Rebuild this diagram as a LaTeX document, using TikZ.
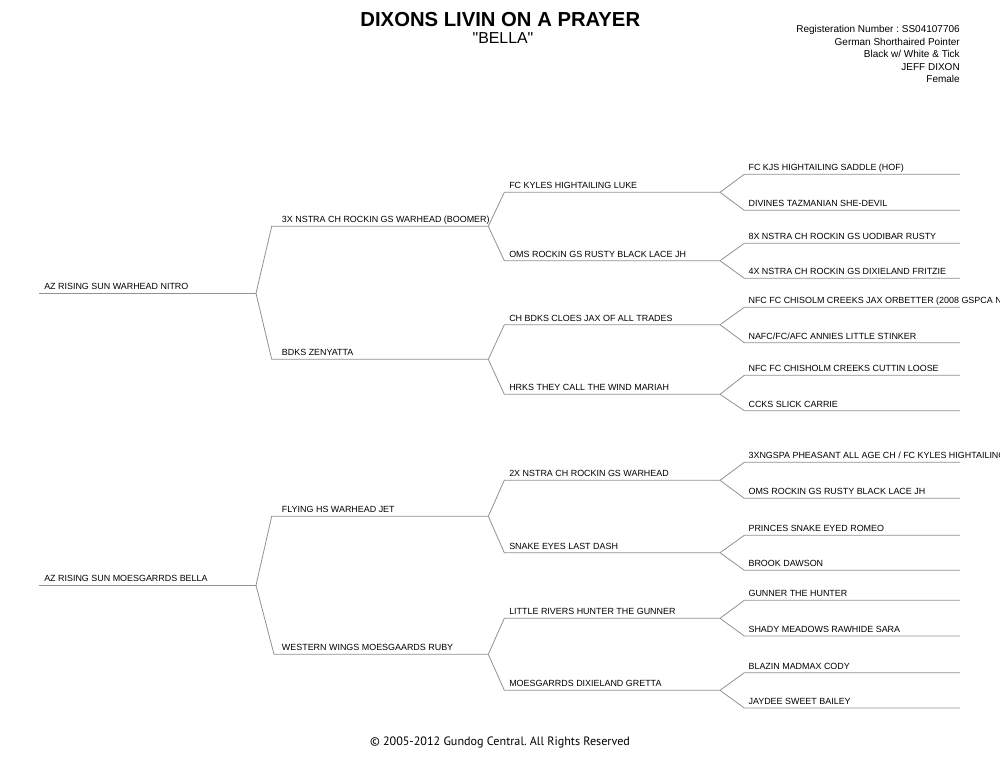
\documentclass[tikz,border=0pt]{standalone}
\usepackage{fontspec}
\setmainfont{Liberation Sans}
\newfontfamily\qfont[Ligatures=TeXOff]{Liberation Sans}
\newfontfamily\footfont{PT Sans}
\definecolor{linegray}{RGB}{145,145,145}
\frenchspacing
\newcommand\dog[6]{%
  \coordinate (#1s) at (#2,#5);
  \coordinate (#1e) at (#3,#5);
  \node[dogname] (#1) at (#4,#5-3.5) {#6};}
\begin{document}
\begin{tikzpicture}[x=0.75pt,y=-0.75pt,
  ln/.style={draw=linegray,line width=0.6pt},
  dogname/.style={anchor=base west,inner sep=0pt,font=\fontsize{6.7}{8}\selectfont},
  info/.style={anchor=base east,inner sep=0pt,font=\fontsize{7.5}{9}\selectfont}]
\useasboundingbox (0,0) rectangle (1000,769);
\clip (0,0) rectangle (1000,769);
% header
\node[anchor=base,inner sep=0pt,font=\bfseries\fontsize{15.2}{18}\selectfont] (title) at (500.3,26.5) {DIXONS LIVIN ON A PRAYER};
\node[anchor=base,inner sep=0pt,font=\qfont\fontsize{11.9}{14}\selectfont] (nick) at (503,43) {"BELLA"};
\node[info] (reg) at (960,32.5) {Registeration Number : SS04107706};
\node[info] (breed) at (960,45) {German Shorthaired Pointer};
\node[info] (color) at (960,57.5) {Black w/ White \& Tick};
\node[info] (owner) at (960,70) {JEFF DIXON};
\node[info] (sex) at (960,82.5) {Female};
% generation 1
\dog{A}{39.3}{256}{44}{293.3}{AZ RISING SUN WARHEAD NITRO}
\dog{B}{39.3}{256}{44}{585.3}{AZ RISING SUN MOESGARRDS BELLA}
% generation 2
\dog{A1}{271.7}{488.3}{281.7}{226.3}{3X NSTRA CH ROCKIN GS WARHEAD (BOOMER)}
\dog{A2}{271.7}{488.3}{281.7}{359.3}{BDKS ZENYATTA}
\dog{B1}{271.7}{488.3}{281.7}{516.3}{FLYING HS WARHEAD JET}
\dog{B2}{274}{488.3}{281.7}{654.3}{WESTERN WINGS MOESGAARDS RUBY}
% generation 3
\dog{A11}{504.3}{720}{509}{192.3}{FC KYLES HIGHTAILING LUKE}
\dog{A12}{504.3}{720}{509}{260.7}{OMS ROCKIN GS RUSTY BLACK LACE JH}
\dog{A21}{504.3}{720}{509}{324.7}{CH BDKS CLOES JAX OF ALL TRADES}
\dog{A22}{504.3}{720}{509}{394.3}{HRKS THEY CALL THE WIND MARIAH}
\dog{B11}{504.3}{720}{509}{480.3}{2X NSTRA CH ROCKIN GS WARHEAD}
\dog{B12}{504.3}{720}{509}{552.7}{SNAKE EYES LAST DASH}
\dog{B21}{504.3}{720}{509}{618.3}{LITTLE RIVERS HUNTER THE GUNNER}
\dog{B22}{504.3}{720}{509}{690.3}{MOESGARRDS DIXIELAND GRETTA}
% generation 4
\dog{A111}{744.3}{960}{748.3}{174.3}{FC KJS HIGHTAILING SADDLE (HOF)}
\dog{A112}{744.3}{960}{748.3}{210.3}{DIVINES TAZMANIAN SHE-DEVIL}
\dog{A121}{744.3}{960}{748.3}{243.3}{8X NSTRA CH ROCKIN GS UODIBAR RUSTY}
\dog{A122}{744.3}{960}{748.3}{278.3}{4X NSTRA CH ROCKIN GS DIXIELAND FRITZIE}
\dog{A211}{744.3}{960}{748.3}{307.3}{NFC FC CHISOLM CREEKS JAX ORBETTER (2008 GSPCA N}
\dog{A212}{744.3}{960}{748.3}{342.7}{NAFC/FC/AFC ANNIES LITTLE STINKER}
\dog{A221}{744.3}{960}{748.3}{375.3}{NFC FC CHISHOLM CREEKS CUTTIN LOOSE}
\dog{A222}{744.3}{960}{748.3}{410.7}{CCKS SLICK CARRIE}
\dog{B111}{744.3}{960}{748.3}{462.3}{3XNGSPA PHEASANT ALL AGE CH / FC KYLES HIGHTAILING}
\dog{B112}{744.3}{960}{748.3}{498.3}{OMS ROCKIN GS RUSTY BLACK LACE JH}
\dog{B121}{744.3}{960}{748.3}{535.3}{PRINCES SNAKE EYED ROMEO}
\dog{B122}{744.3}{960}{748.3}{570.3}{BROOK DAWSON}
\dog{B211}{744.3}{960}{748.3}{600.3}{GUNNER THE HUNTER}
\dog{B212}{744.3}{960}{748.3}{636}{SHADY MEADOWS RAWHIDE SARA}
\dog{B221}{744.3}{960}{748.3}{672.7}{BLAZIN MADMAX CODY}
\dog{B222}{744.3}{960}{748.3}{708}{JAYDEE SWEET BAILEY}
% connectors
\draw[ln] (As) -- (Ae);
\draw[ln] (Bs) -- (Be);
\foreach \p in {A,B,A1,A2,B1,B2,A11,A12,A21,A22,B11,B12,B21,B22}{
  \draw[ln] (\p e) -- (\p 1s) -- (\p 1e);
  \draw[ln] (\p e) -- (\p 2s) -- (\p 2e);
}
% footer
\node[anchor=center,inner sep=0pt,font=\footfont\fontsize{9.1}{11}\selectfont] (foot) at (500,742) {© 2005-2012 Gundog Central. All Rights Reserved};
\end{tikzpicture}
\end{document}
